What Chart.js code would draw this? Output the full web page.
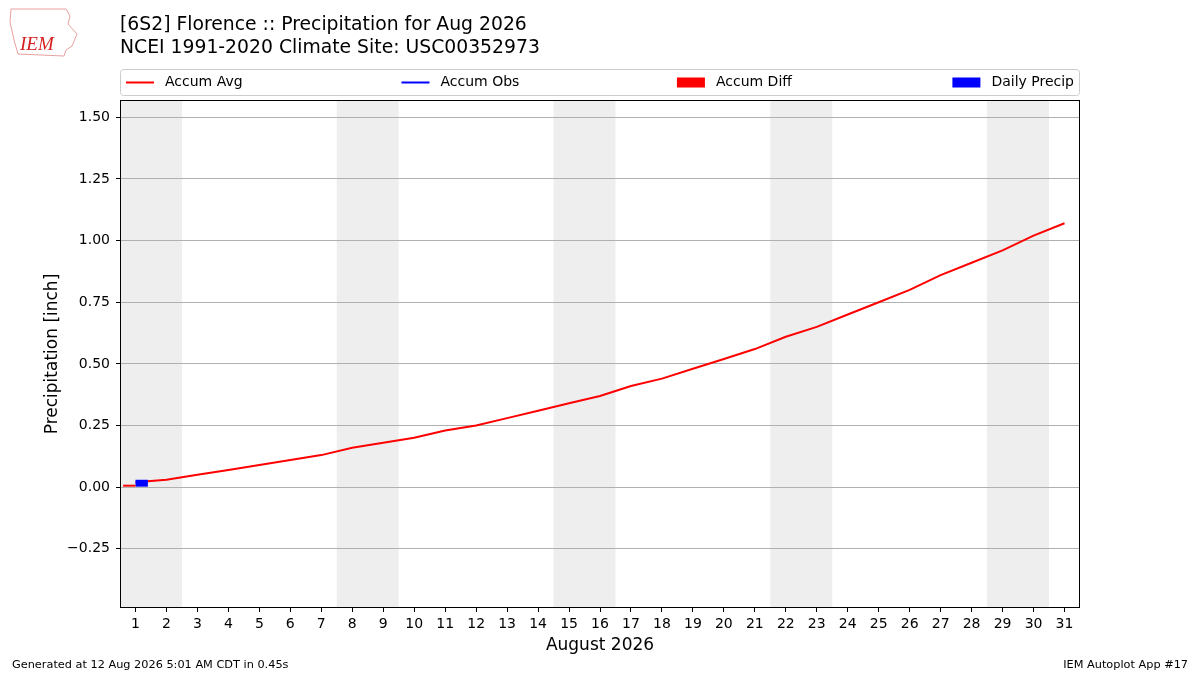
<!DOCTYPE html>
<html>
<head>
<meta charset="utf-8">
<title>Florence Precipitation Aug 2026</title>
<script src="https://cdn.jsdelivr.net/npm/chart.js@4/dist/chart.umd.min.js"></script>
<style>
  html, body { margin: 0; padding: 0; background: #fff; }
  #wrap { width: 1200px; height: 675px; }
</style>
</head>
<body>
<div id="wrap"><canvas id="myChart" width="1200" height="675"></canvas></div>
<script>
// days of the month
var days = [1, 2, 3, 4, 5, 6, 7, 8, 9, 10, 11, 12, 13, 14, 15, 16,
            17, 18, 19, 20, 21, 22, 23, 24, 25, 26, 27, 28, 29, 30, 31];
// climatology accumulated precip (inch)
var accumAvg = [0.02, 0.03, 0.05, 0.07, 0.09, 0.11, 0.13, 0.16, 0.18, 0.20,
                0.23, 0.25, 0.28, 0.31, 0.34, 0.37, 0.41, 0.44, 0.48, 0.52,
                0.56, 0.61, 0.65, 0.70, 0.75, 0.80, 0.86, 0.91, 0.96, 1.02, 1.07];
// observed so far
var obsDays = [1];
var accumObs = [0.03];
var dailyPrecip = [0.03];
var accumDiff = [0.01];
// y axis ticks
var yTicks = [-0.25, 0.00, 0.25, 0.50, 0.75, 1.00, 1.25, 1.50];
var year = 2026, monthIndex = 7;

var titleLines = ['[6S2] Florence :: Precipitation for Aug 2026',
                  'NCEI 1991-2020 Climate Site: USC00352973'];
var footLeft = 'Generated at 12 Aug 2026 5:01 AM CDT in 0.45s';
var footRight = 'IEM Autoplot App #17';

var FONT = "'DejaVu Sans', 'Noto Sans', sans-serif";
Chart.defaults.font.family = FONT;
Chart.defaults.color = '#000';

function byDay(vals) {
    return days.map(function (d) {
        var i = obsDays.indexOf(d);
        return i < 0 ? null : vals[i];
    });
}

// shade weekends (merged runs), behind the grid
var weekendBands = {
    id: 'weekendBands',
    beforeDraw: function (chart) {
        var x = chart.scales.x, a = chart.chartArea, c = chart.ctx;
        var half = (a.right - a.left) / days.length / 2;
        var runs = [], cur = null;
        days.forEach(function (d, i) {
            var wd = new Date(year, monthIndex, d).getDay();
            if (wd === 0 || wd === 6) {
                if (cur && cur[1] === i - 1) cur[1] = i;
                else { cur = [i, i]; runs.push(cur); }
            }
        });
        c.save();
        c.fillStyle = '#eeeeee';
        runs.forEach(function (r) {
            var x1 = x.getPixelForValue(r[0]) - half;
            var x2 = x.getPixelForValue(r[1]) + half;
            c.fillRect(x1, a.top, x2 - x1, a.bottom - a.top);
        });
        c.restore();
    }
};

// frame, legend, titles, footer
var decor = {
    id: 'decor',
    afterDraw: function (chart) {
        var a = chart.chartArea, c = chart.ctx;
        c.save();
        c.strokeStyle = '#000';
        c.lineWidth = 1;
        c.strokeRect(a.left + 0.5, a.top + 0.5, a.right - a.left - 1, a.bottom - a.top - 1);

        // legend
        var lx = a.left + 0.5, ly = 69.5, lw = a.right - a.left - 1, lh = 26;
        c.beginPath();
        c.roundRect(lx, ly, lw, lh, 3);
        c.fillStyle = 'rgba(255,255,255,0.8)';
        c.fill();
        c.strokeStyle = '#cccccc';
        c.stroke();
        c.font = '14px ' + FONT;
        c.textBaseline = 'middle';
        c.textAlign = 'left';
        var ds = chart.data.datasets;
        var handle = 28, gap = 11, cy = ly + lh / 2;
        var lastW = handle + gap + c.measureText(ds[ds.length - 1].label).width;
        var x0 = a.left + 6;
        var step = (a.right - 6 - x0 - lastW) / (ds.length - 1);
        ds.forEach(function (d, i) {
            var hx = x0 + i * step;
            if (d.type === 'line') {
                c.strokeStyle = d.borderColor;
                c.lineWidth = 2;
                c.beginPath();
                c.moveTo(hx, cy);
                c.lineTo(hx + handle, cy);
                c.stroke();
            } else {
                c.fillStyle = d.backgroundColor;
                c.fillRect(hx, cy - 5, handle, 10);
            }
            c.fillStyle = '#000';
            c.fillText(d.label, hx + handle + gap, cy);
        });

        // titles
        c.font = '18.8px ' + FONT;
        c.fillStyle = '#000';
        c.textBaseline = 'middle';
        c.fillText(titleLines[0], a.left, 25.5);
        c.fillText(titleLines[1], a.left, 48.5);

        // logo stand-in
        c.strokeStyle = '#e8a0a0';
        c.lineWidth = 1;
        c.beginPath();
        c.moveTo(11, 9); c.lineTo(66, 9); c.lineTo(70, 16); c.lineTo(68, 24);
        c.lineTo(77, 34); c.lineTo(72, 46); c.lineTo(66, 50); c.lineTo(64, 56);
        c.lineTo(18, 54); c.lineTo(14, 40); c.lineTo(10, 22); c.closePath();
        c.stroke();
        c.fillStyle = '#d62020';
        c.font = 'italic 19px "Liberation Serif", serif';
        c.fillText('IEM', 20, 45);

        // footer
        c.font = '11.3px ' + FONT;
        c.fillStyle = '#000';
        c.fillText(footLeft, 12, 665);
        c.textAlign = 'right';
        c.fillText(footRight, 1188, 665);
        c.restore();
    }
};

var ctx = document.getElementById('myChart').getContext('2d');
var chart = new Chart(ctx, {
    type: 'bar',
    data: {
        labels: days.map(String),
        datasets: [{
            type: 'line',
            label: 'Accum Avg',
            data: accumAvg,
            borderColor: '#ff0000',
            backgroundColor: '#ff0000',
            borderWidth: 2,
            pointRadius: 0,
            tension: 0,
            order: 2
        }, {
            type: 'line',
            label: 'Accum Obs',
            data: byDay(accumObs),
            borderColor: '#0000ff',
            backgroundColor: '#0000ff',
            borderWidth: 2,
            pointRadius: 0,
            tension: 0,
            order: 2
        }, {
            label: 'Accum Diff',
            data: byDay(accumDiff),
            backgroundColor: '#ff0000',
            categoryPercentage: 0.8,
            barPercentage: 1.0,
            order: 1
        }, {
            label: 'Daily Precip',
            data: byDay(dailyPrecip),
            backgroundColor: '#0000ff',
            categoryPercentage: 0.8,
            barPercentage: 1.0,
            order: 1
        }]
    },
    options: {
        responsive: false,
        animation: false,
        layout: { padding: { top: 100, right: 120, left: 0, bottom: 0 } },
        plugins: {
            legend: { display: false },
            tooltip: { enabled: false }
        },
        scales: {
            x: {
                type: 'category',
                offset: true,
                grid: { offset: false, drawOnChartArea: false, tickLength: 4, tickColor: '#000' },
                border: { display: false },
                ticks: { font: { size: 14 }, padding: 4, maxRotation: 0, autoSkip: false },
                title: { display: true, text: 'August 2026', font: { size: 17 }, padding: { top: 0, bottom: 19 } },
                afterFit: function (s) { s.height = 67; }
            },
            y: {
                min: -0.49,
                max: 1.57,
                afterBuildTicks: function (s) {
                    s.ticks = yTicks.map(function (v) { return { value: v }; });
                },
                grid: { color: '#b0b0b0', tickColor: '#000', tickLength: 4 },
                border: { display: false },
                ticks: {
                    font: { size: 14 },
                    padding: 6,
                    callback: function (v) { return v.toFixed(2).replace('-', '\u2212'); }
                },
                title: { display: true, text: 'Precipitation [inch]', font: { size: 17 }, padding: { top: 42 } },
                afterFit: function (s) { s.width = 120; }
            }
        }
    },
    plugins: [weekendBands, decor]
});
</script>
</body>
</html>
